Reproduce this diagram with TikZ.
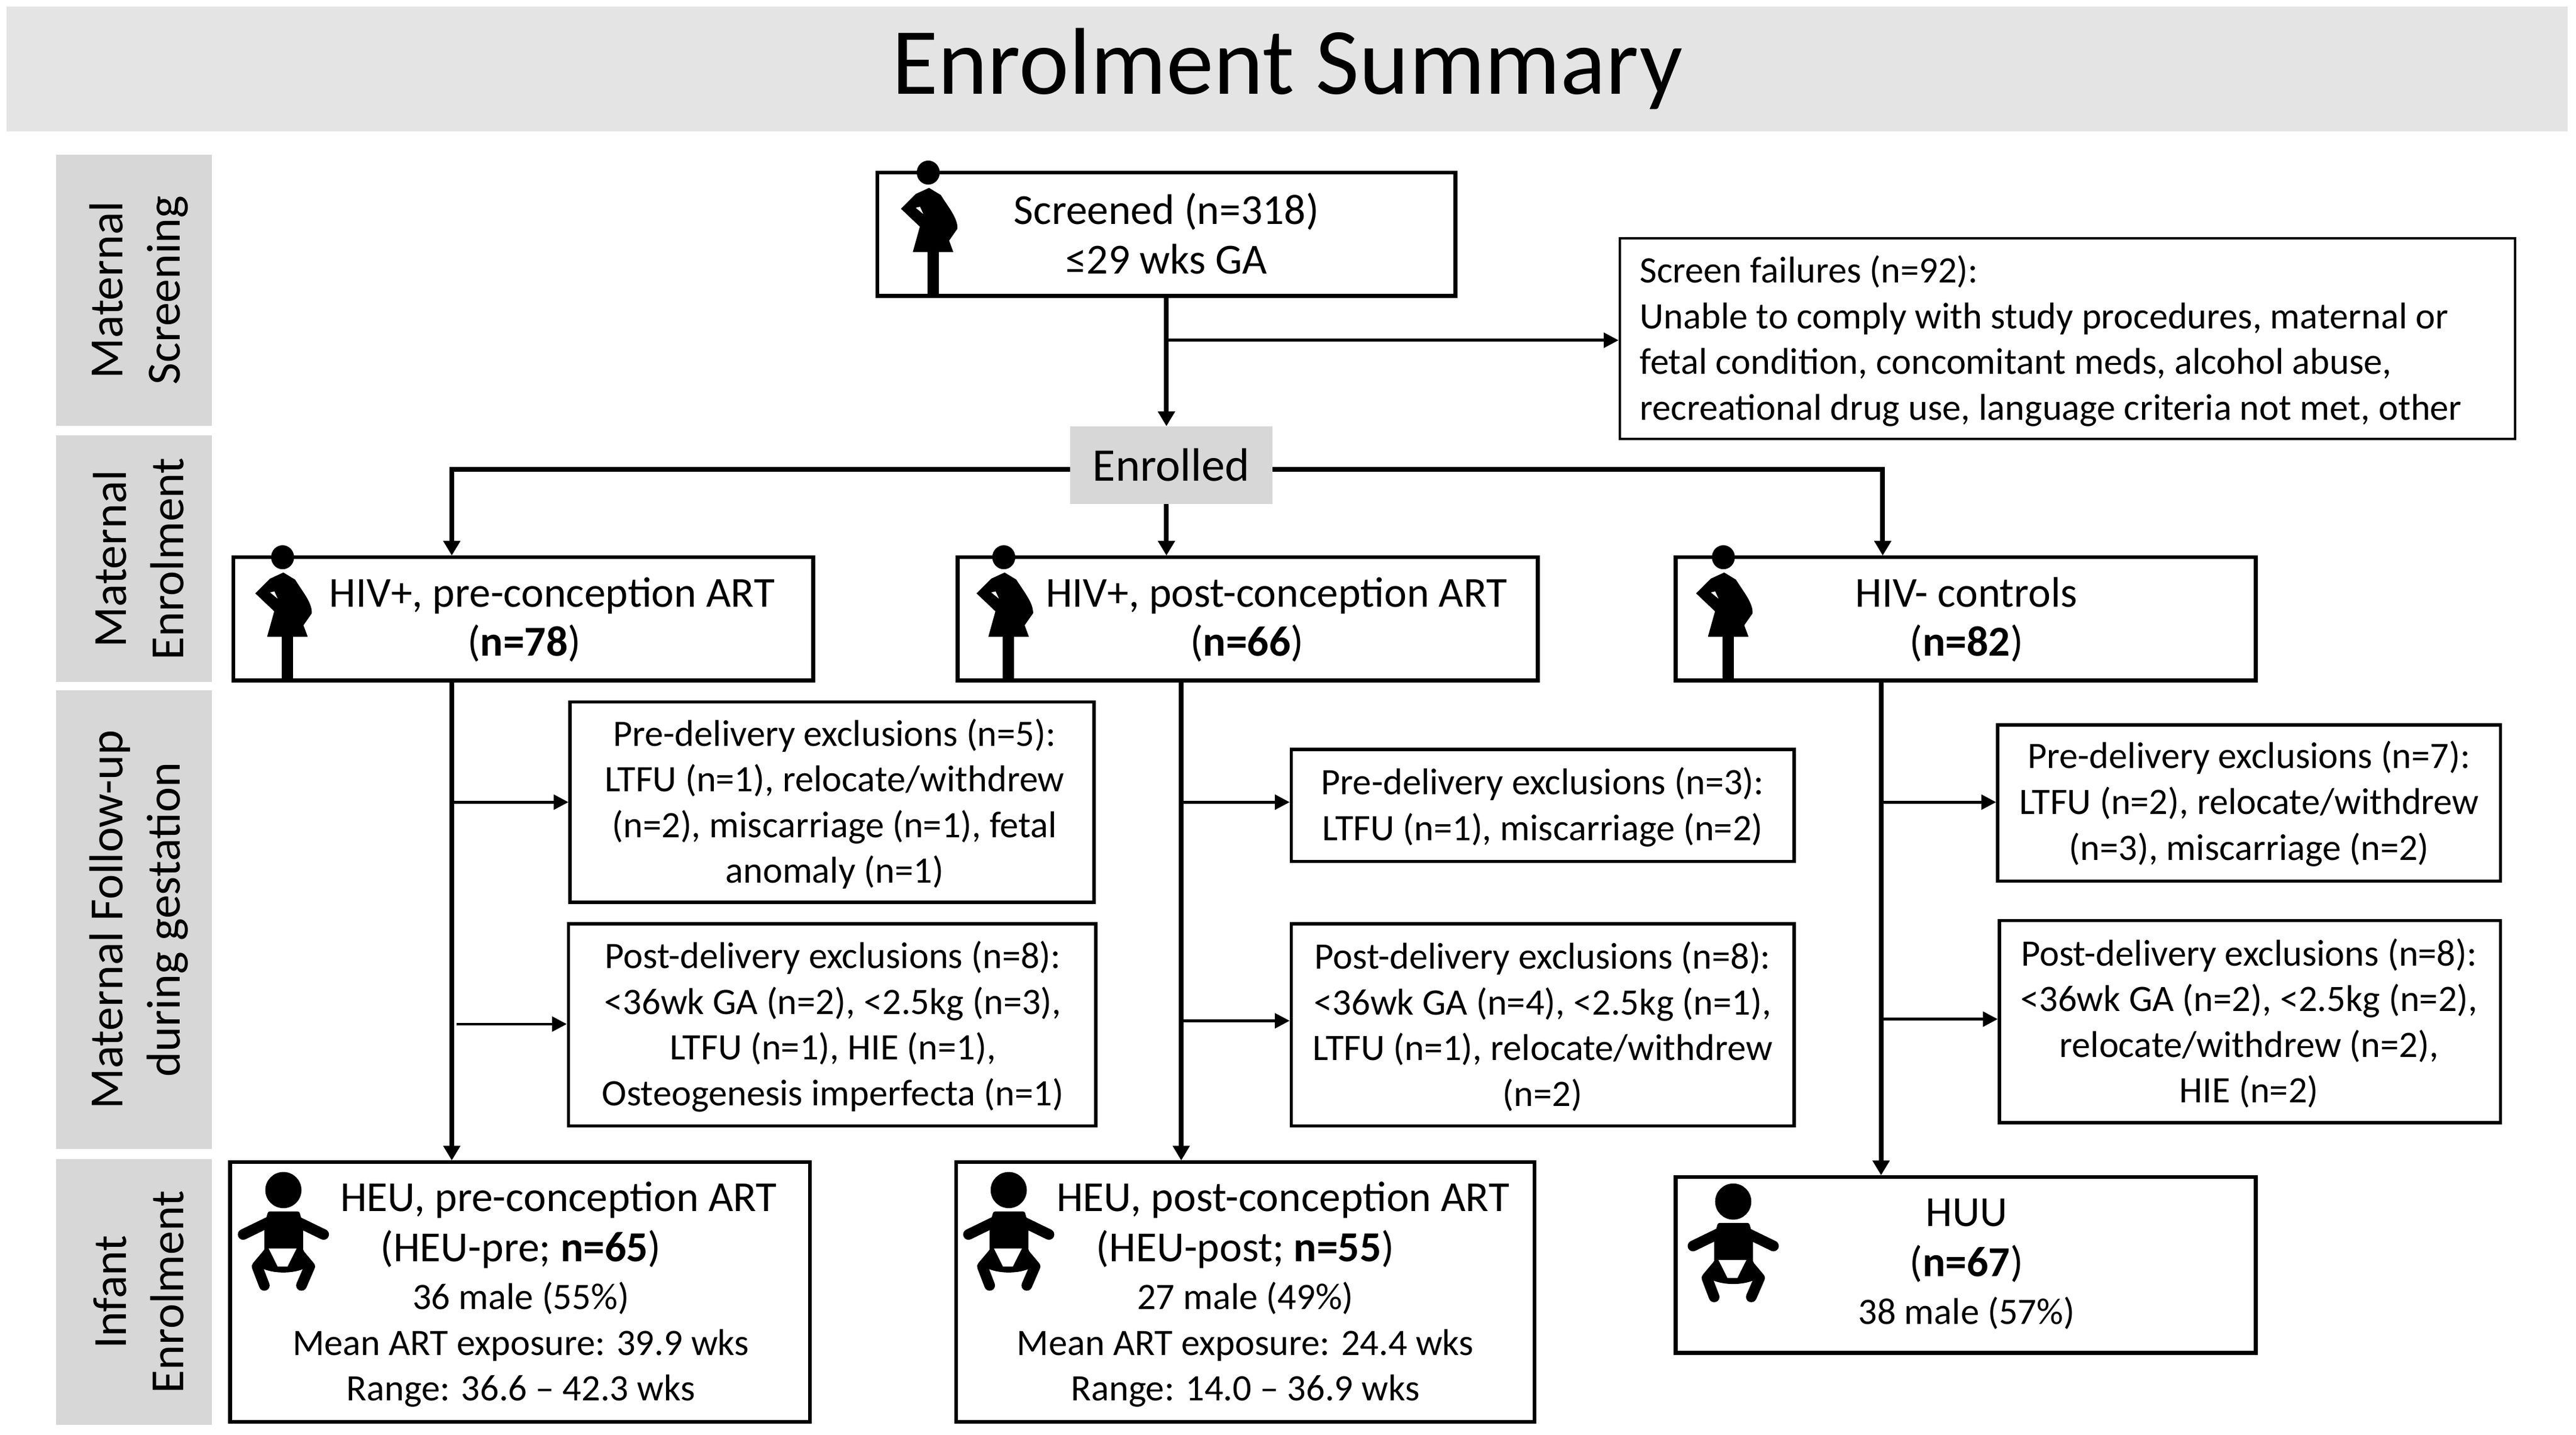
\documentclass[tikz,border=0pt]{standalone}
\usepackage{fontspec}
\setmainfont{Carlito}
\usetikzlibrary{arrows.meta,positioning,calc}
\definecolor{bandgray}{HTML}{E4E4E4}
\definecolor{sidegray}{HTML}{D7D7D7}
\newcommand{\headsize}{\fontsize{26}{30}\selectfont}
\newcommand{\sidestrut}{\rule{0pt}{26pt}}
\tikzset{
    mainbox/.style={draw, line width=2.4pt, fill=white, inner sep=0pt},
    exclbox/.style={draw, line width=2pt, fill=white, inner sep=0pt},
    bodytxt/.style={inner sep=0pt, align=center, font=\fontsize{26}{30}\selectfont},
    infanttxt/.style={inner sep=0pt, align=center, font=\fontsize{22.7}{27.5}\selectfont},
    smalltxt/.style={inner sep=0pt, align=center, font=\fontsize{22.7}{27.8}\selectfont},
    sidelabel/.style={fill=sidegray, inner sep=0pt, rotate=90, align=center, minimum height=95,
        font=\fontsize{29}{35}\selectfont},
    mainline/.style={line width=2.9pt, -{Triangle[length=9pt,width=10pt]}},
    branchline/.style={line width=1.7pt, -{Triangle[length=9pt,width=9pt]}},
    pics/mother/.style={code={
        \fill (0,0) ellipse (7 and 7.3);
        \fill (0.5,9.3) -- (7.6,13.6) .. controls (13,22) and (18,28) .. (17.8,34.1)
            -- (12.7,41.4) -- (15.3,48.4) -- (-9.4,48.4) -- (-5.1,32.9) -- (-16.6,22) -- (-7.6,13) -- cycle;
        \fill[white] (-7.6,21.4) -- (-5,20.8) -- (-3,25.2) -- cycle;
        \fill (-0.5,48) rectangle (6.4,74.7);
    }},
    pics/infant/.style={code={
        \fill (0,0) ellipse (11 and 11);
        \fill[rounded corners=1pt] (-9.3,13) -- (9.7,13) -- (12,21) -- (12,37) -- (-11.6,37) -- (-11.6,21) -- cycle;
        \draw[line width=6.5pt, line cap=round] (-8,19) -- (-24.5,27);
        \draw[line width=6.5pt, line cap=round] (8,19) -- (24.5,27);
        \draw[line width=6.5pt, line cap=round, line join=round] (-8,37) -- (-16,46.5) -- (-11.6,58);
        \draw[line width=6.5pt, line cap=round, line join=round] (8,37) -- (16,46.5) -- (11,58);
        \fill (-11.6,36) -- (12,36) -- (16,46) .. controls (8,51.5) and (-8,51.5) .. (-16,46) -- cycle;
        \fill[white] (-9,35.5) -- (8,35.5) -- (2.5,46.5) -- (-3.5,46.5) -- cycle;
    }},
}
\begin{document}
\begin{tikzpicture}[x=1pt, y=-1pt]
    \useasboundingbox (0,0) rectangle (1568,872.65);

    % Title band
    \node[fill=bandgray, minimum width=1559, minimum height=76, inner sep=0pt,
        font=\fontsize{57.7}{60}\selectfont] (title) at (783.5,42) {Enrolment Summary};

    % Stage labels
    \node[sidelabel, minimum width=165] (stagescreen) at (81.5,176.5) {\sidestrut Maternal\\Screening};
    \node[sidelabel, minimum width=150] (stageenrol) at (81.5,340) {\sidestrut Maternal\\Enrolment};
    \node[sidelabel, minimum width=279] (stagefollow) at (81.5,559.5) {\sidestrut Maternal Follow-up\\during gestation};
    \node[sidelabel, minimum width=162] (stageinfant) at (81.5,786) {\sidestrut Infant\\Enrolment};

    % Screening
    \node[mainbox, minimum width=352, minimum height=75] (screened) at (710,142.5) {};
    \node[bodytxt] (screenedtxt) at (710,142) {Screened (n=318)\\≤29 wks GA};
    \node[exclbox, line width=1.6pt, minimum width=545, minimum height=122] (failures) at (1258.5,206) {};
    \node[smalltxt, align=left, anchor=west] (failurestxt) at (998,207.5)
        {Screen failures (n=92):\\Unable to comply with study procedures, maternal or\\fetal condition, concomitant meds, alcohol abuse,\\recreational drug use, language criteria not met, other};
    \node[fill=sidegray, minimum width=123, minimum height=47, inner sep=0pt, bodytxt,
        font=\fontsize{28.5}{30}\selectfont] (enrolled) at (713,283) {Enrolled};

    % Maternal groups
    \node[mainbox, minimum width=353, minimum height=75] (hivpre) at (318.5,376.5) {};
    \node[bodytxt] (hivpretxt) at (336,377) {HIV+, pre-conception ART\\\hspace*{-34pt}(\textbf{n=78})};
    \node[mainbox, minimum width=353, minimum height=75] (hivpost) at (759.5,376.5) {};
    \node[bodytxt] (hivposttxt) at (777,377) {HIV+, post-conception ART\\\hspace*{-36pt}(\textbf{n=66})};
    \node[mainbox, minimum width=353, minimum height=75] (hivneg) at (1196.5,376.5) {};
    \node[bodytxt] (hivnegtxt) at (1197,377) {HIV- controls\\(\textbf{n=82})};

    % Exclusions
    \node[exclbox, minimum width=319, minimum height=122] (prepredel) at (506.5,488) {};
    \node[smalltxt] (prepredeltxt) at (508,489) {Pre-delivery exclusions (n=5):\\LTFU (n=1), relocate/withdrew\\(n=2), miscarriage (n=1), fetal\\anomaly (n=1)};
    \node[exclbox, minimum width=321, minimum height=123] (prepostdel) at (506.5,623.5) {};
    \node[smalltxt] (prepostdeltxt) at (507,624.5) {Post-delivery exclusions (n=8):\\<36wk GA (n=2), <2.5kg (n=3),\\LTFU (n=1), HIE (n=1),\\Osteogenesis imperfecta (n=1)};
    \node[exclbox, minimum width=306, minimum height=68] (postpredel) at (939,490) {};
    \node[smalltxt] (postpredeltxt) at (939,491) {Pre-delivery exclusions (n=3):\\LTFU (n=1), miscarriage (n=2)};
    \node[exclbox, minimum width=306, minimum height=123] (postpostdel) at (939,623.5) {};
    \node[smalltxt] (postpostdeltxt) at (939,624.5) {Post-delivery exclusions (n=8):\\<36wk GA (n=4), <2.5kg (n=1),\\LTFU (n=1), relocate/withdrew\\(n=2)};
    \node[exclbox, minimum width=306, minimum height=95] (negpredel) at (1369,488.5) {};
    \node[smalltxt] (negpredeltxt) at (1369,489) {Pre-delivery exclusions (n=7):\\LTFU (n=2), relocate/withdrew\\(n=3), miscarriage (n=2)};
    \node[exclbox, minimum width=305, minimum height=123] (negpostdel) at (1369.5,621.5) {};
    \node[smalltxt] (negpostdeltxt) at (1369,622.5) {Post-delivery exclusions (n=8):\\<36wk GA (n=2), <2.5kg (n=2),\\relocate/withdrew (n=2),\\HIE (n=2)};

    % Infant groups
    \node[mainbox, minimum width=353, minimum height=158] (heupre) at (316.5,786) {};
    \node[infanttxt] (heupretxt) at (317,787.5) {\hspace*{46pt}{\headsize HEU, pre-conception ART}\\[3pt]{\headsize (HEU-pre; \textbf{n=65})}\\[1.5pt]36 male (55\%)\\[0.5pt]Mean ART exposure: 39.9 wks\\Range: 36.6 – 42.3 wks};
    \node[mainbox, minimum width=352, minimum height=158] (heupost) at (758,786) {};
    \node[infanttxt] (heuposttxt) at (758,787.5) {\hspace*{46pt}{\headsize HEU, post-conception ART}\\[3pt]{\headsize (HEU-post; \textbf{n=55})}\\[1.5pt]27 male (49\%)\\[0.5pt]Mean ART exposure: 24.4 wks\\Range: 14.0 – 36.9 wks};
    \node[mainbox, minimum width=353, minimum height=107] (huu) at (1196.5,769.5) {};
    \node[infanttxt] (huutxt) at (1197,769) {{\headsize HUU}\\[3pt]{\headsize (\textbf{n=67})}\\[1.5pt]38 male (57\%)};

    % Icons
    \pic at (565,105) {mother};
    \pic at (172,339) {mother};
    \pic at (611,339) {mother};
    \pic at (1049,339) {mother};
    \pic at (172.5,724) {infant};
    \pic at (614,724) {infant};
    \pic at (1055,731) {infant};

    % Branch points
    \coordinate (screenfork) at (710,207);
    \coordinate (enrolfork) at (710,285.5);
    \coordinate (prehead) at (275,338);
    \coordinate (posthead) at (710,338);
    \coordinate (neghead) at (1146,338);
    \coordinate (preline) at (275,414);
    \coordinate (postline) at (719,414);
    \coordinate (negline) at (1145,414);
    \coordinate (preend) at (275,706);
    \coordinate (postend) at (719,706);
    \coordinate (negend) at (1145,715);

    % Connectors
    \draw[mainline] (screened.south -| screenfork) -- (enrolled.north -| screenfork);
    \draw[branchline] (screenfork) -- (failures.west |- screenfork);
    \draw[mainline] (enrolled.west |- enrolfork) -| (prehead);
    \draw[mainline] (enrolled.east |- enrolfork) -| (neghead);
    \draw[mainline] (enrolled.south -| posthead) -- (posthead);
    \draw[mainline] (preline) -- (preend);
    \draw[mainline] (postline) -- (postend);
    \draw[mainline] (negline) -- (negend);
    \draw[branchline] (276,488) -- (prepredel.west |- 276,488);
    \draw[branchline] (278,623) -- (prepostdel.west |- 278,623);
    \draw[branchline] (720,488) -- (postpredel.west |- 720,488);
    \draw[branchline] (720,621) -- (postpostdel.west |- 720,621);
    \draw[branchline] (1146,488) -- (negpredel.west |- 1146,488);
    \draw[branchline] (1146,620) -- (negpostdel.west |- 1146,620);
\end{tikzpicture}
\end{document}
